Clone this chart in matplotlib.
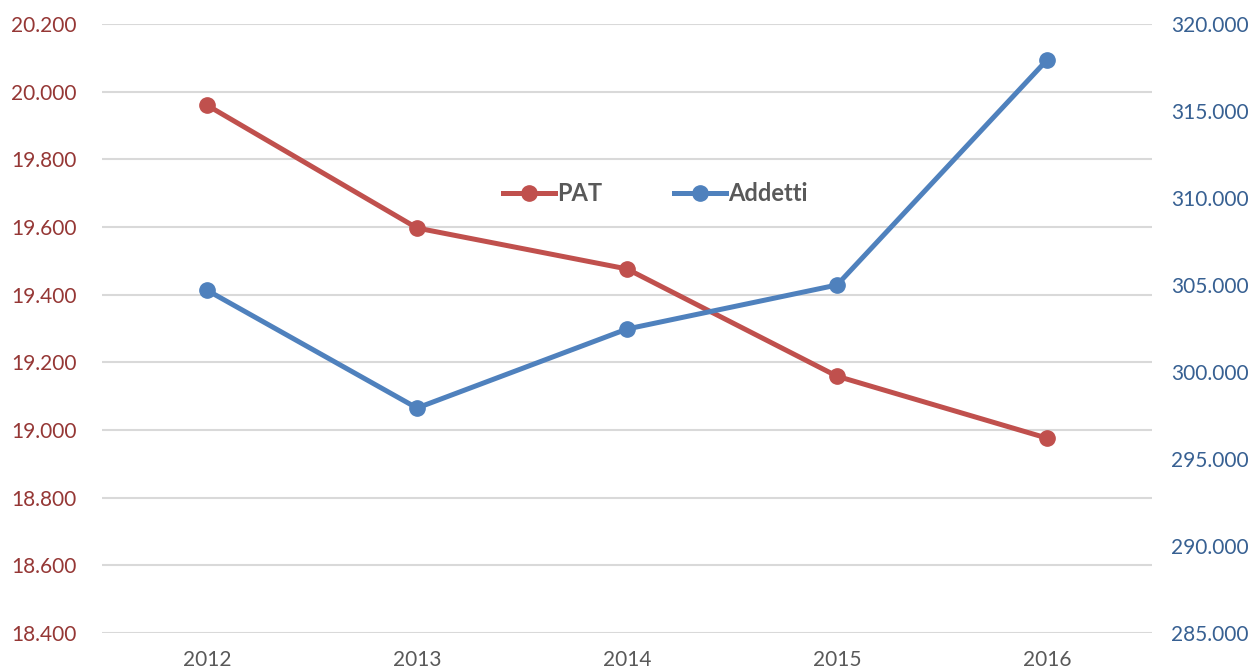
import matplotlib
matplotlib.use("Agg")
import matplotlib.pyplot as plt
from matplotlib.ticker import FuncFormatter, MultipleLocator

years = ["2012", "2013", "2014", "2015", "2016"]
pat = [19960, 19597, 19476, 19159, 18976]
addetti = [304700, 297930, 302470, 305000, 317930]

RED = "#C0504D"
BLUE = "#4F81BD"

plt.rcParams["font.family"] = ["Lato", "DejaVu Sans"]


def it_fmt(v, pos):
    return f"{int(round(v)):,}".replace(",", ".")


fig = plt.figure(figsize=(12.55, 6.7), dpi=100)
ax = fig.add_axes([102 / 1255, 1 - 633 / 670, 1050 / 1255, 609 / 670])
ax2 = ax.twinx()

x = range(len(years))
l1, = ax.plot(x, pat, "-o", color=RED, lw=3.6, ms=11, label="PAT")
l2, = ax2.plot(x, addetti, "-o", color=BLUE, lw=3.6, ms=11, label="Addetti")

ax.set_xlim(-0.5, len(years) - 0.5)
ax.set_ylim(18400, 20200)
ax2.set_ylim(285000, 320000)
ax.yaxis.set_major_locator(MultipleLocator(200))
ax2.yaxis.set_major_locator(MultipleLocator(5000))
ax.yaxis.set_major_formatter(FuncFormatter(it_fmt))
ax2.yaxis.set_major_formatter(FuncFormatter(it_fmt))
ax.set_xticks(list(x))
ax.set_xticklabels(years)

ax.grid(axis="y", color="#D9D9D9", lw=1.5)
ax.set_axisbelow(True)
for a in (ax, ax2):
    for s in a.spines.values():
        s.set_visible(False)
ax.tick_params(axis="y", length=0, pad=18, labelsize=15, labelcolor="#953735")
ax2.tick_params(axis="y", length=0, pad=14, labelsize=15, labelcolor="#376092")
ax.tick_params(axis="x", length=0, pad=12, labelsize=15, labelcolor="#595959")

leg = ax.legend(handles=[l1, l2], loc="center", bbox_to_anchor=(0.527, 0.722),
                ncol=2, frameon=False, fontsize=17, handlelength=2.2,
                columnspacing=3.0, handletextpad=0.1)
for t in leg.get_texts():
    t.set_color("#595959")
    t.set_fontweight("bold")

fig.savefig("out.png", dpi=100)
